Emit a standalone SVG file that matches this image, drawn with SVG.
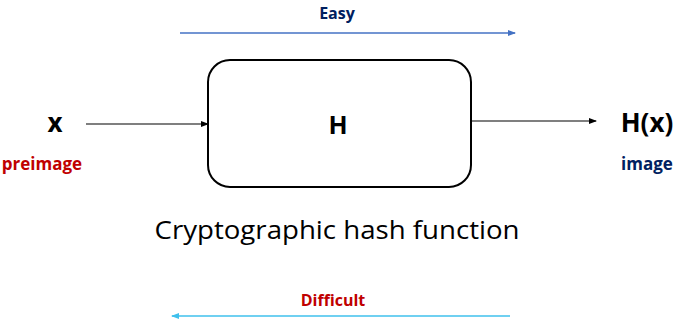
<svg xmlns="http://www.w3.org/2000/svg" width="686" height="329" viewBox="0 0 686 329">
<style>
.b{font-family:"Open Sans","Liberation Sans",sans-serif;font-weight:bold;text-anchor:middle}
.r{font-family:"Open Sans","Liberation Sans",sans-serif;text-anchor:middle}
</style>
<defs>
<marker id="ak" markerWidth="8" markerHeight="8" refX="7" refY="4" orient="auto" markerUnits="userSpaceOnUse"><path d="M0,1 L8,4 L0,7 Z" fill="#000"/></marker>
<marker id="ab" markerWidth="8" markerHeight="8" refX="7" refY="4" orient="auto" markerUnits="userSpaceOnUse"><path d="M0,1 L8,4 L0,7 Z" fill="#4472C4"/></marker>
<marker id="ac" markerWidth="8" markerHeight="8" refX="7" refY="4" orient="auto" markerUnits="userSpaceOnUse"><path d="M0,1 L8,4 L0,7 Z" fill="#3FC0EC"/></marker>
</defs>
<rect width="686" height="329" fill="#fff"/>
<g id="connectors">
<line x1="180" y1="33" x2="515" y2="33" stroke="#4472C4" stroke-width="1.5" marker-end="url(#ab)"/>
<line x1="510" y1="316" x2="172" y2="316" stroke="#3FC0EC" stroke-width="1.5" marker-end="url(#ac)"/>
<line x1="86" y1="124" x2="208" y2="124" stroke="#000" stroke-width="1.2" marker-end="url(#ak)"/>
<line x1="472" y1="121" x2="596" y2="121" stroke="#000" stroke-width="1.2" marker-end="url(#ak)"/>
</g>
<g id="node-H">
<rect x="208" y="60" width="263" height="127" rx="22" fill="#fff" stroke="#000" stroke-width="2"/>
<text class="b" x="338" y="134" font-size="25">H</text>
</g>
<g id="node-x">
<text class="b" x="55" y="132" font-size="26">x</text>
<text class="b" x="42" y="170" font-size="17" fill="#C00000">preimage</text>
</g>
<g id="node-Hx">
<text class="b" x="647" y="132" font-size="26">H(x)</text>
<text class="b" x="647" y="170" font-size="17" fill="#002060">image</text>
</g>
<text class="b" x="337" y="19" font-size="16" fill="#002060">Easy</text>
<text class="b" x="333" y="306" font-size="16" fill="#C00000">Difficult</text>
<text class="r" x="337" y="239" font-size="26" textLength="365" lengthAdjust="spacingAndGlyphs">Cryptographic hash function</text>
</svg>
